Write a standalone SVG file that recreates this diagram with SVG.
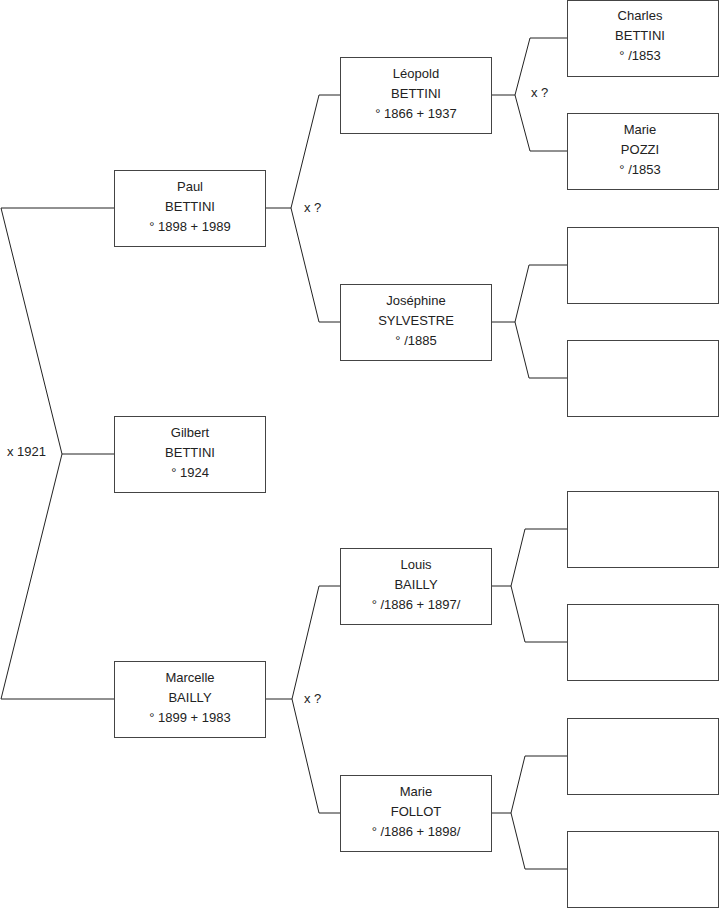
<svg xmlns="http://www.w3.org/2000/svg" width="719" height="908" viewBox="0 0 719 908">
<style>
.box{fill:#fff;stroke:#444;stroke-width:1}
.c{fill:none;stroke:#222;stroke-width:1}
text{font-family:"Liberation Sans",Arial,sans-serif;font-size:13px;fill:#222}
.t{text-anchor:middle}
</style>
<rect width="719" height="908" fill="#fff"/>
<g id="connectors">
<polyline class="c" points="114,454 62,454"/>
<polyline class="c" points="114,208 1,208 62,454 1,699 114,699"/>
<polyline class="c" points="265,208 291,208"/>
<polyline class="c" points="340,95 319,95 291,208 319,322 340,322"/>
<polyline class="c" points="491,95 515,95"/>
<polyline class="c" points="567,38 530,38 515,95 530,151 567,151"/>
<polyline class="c" points="491,322 515,322"/>
<polyline class="c" points="567,265 529,265 515,322 529,378 567,378"/>
<polyline class="c" points="265,699 292,699"/>
<polyline class="c" points="340,586 319,586 292,699 319,813 340,813"/>
<polyline class="c" points="491,586 511,586"/>
<polyline class="c" points="567,529 525,529 511,586 525,642 567,642"/>
<polyline class="c" points="491,813 511,813"/>
<polyline class="c" points="567,756 525,756 511,813 525,869 567,869"/>
<text x="7" y="456">x 1921</text>
<text x="304" y="212">x ?</text>
<text x="531" y="97">x ?</text>
<text x="304" y="703">x ?</text>
</g>
<g id="gilbert"><rect class="box" x="114.5" y="416.5" width="151" height="76"/>
<text class="t" x="190" y="437">Gilbert</text><text class="t" x="190" y="457">BETTINI</text><text class="t" x="190" y="477">° 1924</text></g>
<g id="paul"><rect class="box" x="114.5" y="170.5" width="151" height="76"/>
<text class="t" x="190" y="191">Paul</text><text class="t" x="190" y="211">BETTINI</text><text class="t" x="190" y="231">° 1898 + 1989</text></g>
<g id="marcelle"><rect class="box" x="114.5" y="661.5" width="151" height="76"/>
<text class="t" x="190" y="682">Marcelle</text><text class="t" x="190" y="702">BAILLY</text><text class="t" x="190" y="722">° 1899 + 1983</text></g>
<g id="leopold"><rect class="box" x="340.5" y="57.5" width="151" height="76"/>
<text class="t" x="416" y="78">Léopold</text><text class="t" x="416" y="98">BETTINI</text><text class="t" x="416" y="118">° 1866 + 1937</text></g>
<g id="josephine"><rect class="box" x="340.5" y="284.5" width="151" height="76"/>
<text class="t" x="416" y="305">Joséphine</text><text class="t" x="416" y="325">SYLVESTRE</text><text class="t" x="416" y="345">° /1885</text></g>
<g id="louis"><rect class="box" x="340.5" y="548.5" width="151" height="76"/>
<text class="t" x="416" y="569">Louis</text><text class="t" x="416" y="589">BAILLY</text><text class="t" x="416" y="609">° /1886 + 1897/</text></g>
<g id="mariefollot"><rect class="box" x="340.5" y="775.5" width="151" height="76"/>
<text class="t" x="416" y="796">Marie</text><text class="t" x="416" y="816">FOLLOT</text><text class="t" x="416" y="836">° /1886 + 1898/</text></g>
<g id="charles"><rect class="box" x="567.5" y="0.5" width="151" height="76"/>
<text class="t" x="640" y="20">Charles</text><text class="t" x="640" y="40">BETTINI</text><text class="t" x="640" y="60">° /1853</text></g>
<g id="mariepozzi"><rect class="box" x="567.5" y="113.5" width="151" height="76"/>
<text class="t" x="640" y="134">Marie</text><text class="t" x="640" y="154">POZZI</text><text class="t" x="640" y="174">° /1853</text></g>
<g id="empty1"><rect class="box" x="567.5" y="227.5" width="151" height="76"/></g>
<g id="empty2"><rect class="box" x="567.5" y="340.5" width="151" height="76"/></g>
<g id="empty3"><rect class="box" x="567.5" y="491.5" width="151" height="76"/></g>
<g id="empty4"><rect class="box" x="567.5" y="604.5" width="151" height="76"/></g>
<g id="empty5"><rect class="box" x="567.5" y="718.5" width="151" height="76"/></g>
<g id="empty6"><rect class="box" x="567.5" y="831.5" width="151" height="76"/></g>
</svg>
